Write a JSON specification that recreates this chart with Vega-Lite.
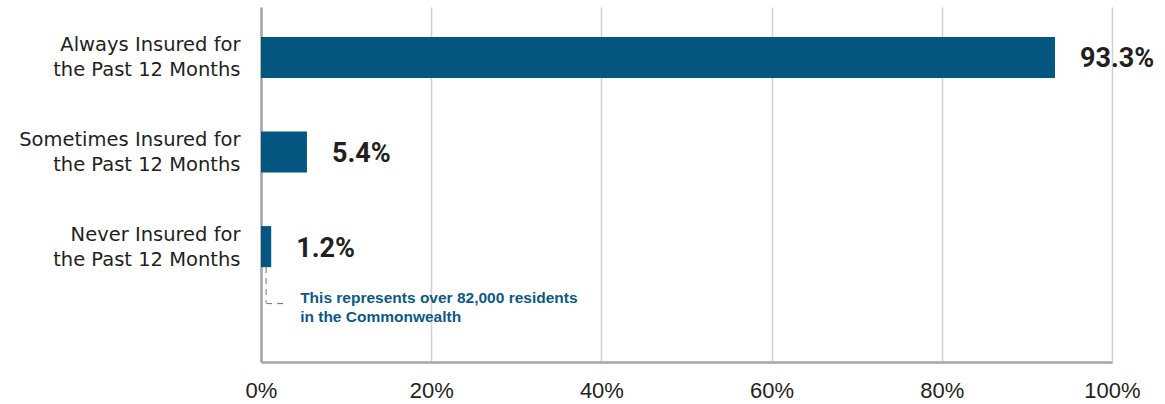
{
  "$schema": "https://vega.github.io/schema/vega-lite/v6.json",
  "width": 851,
  "height": 355,
  "autosize": "none",
  "padding": {"left": 261, "top": 7, "right": 53, "bottom": 42},
  "background": "white",
  "config": {"view": {"stroke": null}},
  "data": {"values": [
    {"status": "Always Insured for|the Past 12 Months", "share": 0.933},
    {"status": "Sometimes Insured for|the Past 12 Months", "share": 0.054},
    {"status": "Never Insured for|the Past 12 Months", "share": 0.012}
  ]},
  "encoding": {
    "y": {
      "field": "status", "type": "nominal", "sort": null,
      "scale": {"paddingInner": 0.566, "paddingOuter": 0.66, "align": 0.24},
      "axis": {
        "title": null, "ticks": false, "grid": false,
        "domain": true, "domainColor": "#a6a6a6", "domainWidth": 2.5,
        "labelExpr": "split(datum.label, '|')",
        "labelFont": "DejaVu Sans", "labelFontSize": 19.5, "labelColor": "#231f20",
        "labelPadding": 21, "labelLineHeight": 25, "labelLimit": 400, "labelOffset": -12
      }
    }
  },
  "layer": [
    {
      "mark": {"type": "bar", "color": "#02567f"},
      "encoding": {
        "x": {
          "field": "share", "type": "quantitative",
          "scale": {"domain": [0, 1], "nice": false},
          "axis": {
            "title": null, "values": [0, 0.2, 0.4, 0.6, 0.8, 1],
            "format": ".0%",
            "grid": true, "gridColor": "#d0d0d0", "gridWidth": 1.5,
            "ticks": false, "domain": true, "domainColor": "#a6a6a6", "domainWidth": 2.5,
            "labelFont": "Liberation Sans", "labelFontSize": 22, "labelColor": "#231f20",
            "labelPadding": 18, "labelFlush": false
          }
        }
      }
    },
    {
      "mark": {"type": "text", "align": "left", "baseline": "middle", "dx": 25, "dy": 2,
               "font": "Roboto", "fontWeight": "bold", "fontSize": 27, "color": "#231f20"},
      "encoding": {
        "x": {"field": "share", "type": "quantitative"},
        "text": {"field": "share", "type": "quantitative", "format": ".1%"}
      }
    },
    {
      "data": {"values": [{"status": "Never Insured for|the Past 12 Months", "xa": 0.006}]},
      "mark": {"type": "rule", "color": "#6f6f6f", "strokeWidth": 1, "strokeDash": [6, 5], "y2Offset": 56},
      "encoding": {
        "x": {"field": "xa", "type": "quantitative"},
        "y": {"field": "status", "type": "nominal", "sort": null, "bandPosition": 1},
        "y2": {"field": "status"}
      }
    },
    {
      "data": {"values": [{"status": "Never Insured for|the Past 12 Months", "xa": 0.006, "xb": 0.032}]},
      "mark": {"type": "rule", "color": "#6f6f6f", "strokeWidth": 1, "strokeDash": [6, 5], "yOffset": 57},
      "encoding": {
        "x": {"field": "xa", "type": "quantitative"},
        "x2": {"field": "xb"},
        "y": {"field": "status", "type": "nominal", "sort": null}
      }
    },
    {
      "data": {"values": [{"status": "Never Insured for|the Past 12 Months", "xt": 0.046, "note": "This represents over 82,000 residents|in the Commonwealth"}]},
      "mark": {"type": "text", "align": "left", "baseline": "alphabetic", "dy": 56, "lineHeight": 19, "lineBreak": "|",
               "font": "Liberation Sans", "fontWeight": "bold", "fontSize": 15.5, "color": "#0b5a86"},
      "encoding": {
        "x": {"field": "xt", "type": "quantitative"},
        "y": {"field": "status", "type": "nominal", "sort": null},
        "text": {"field": "note"}
      }
    }
  ]
}
